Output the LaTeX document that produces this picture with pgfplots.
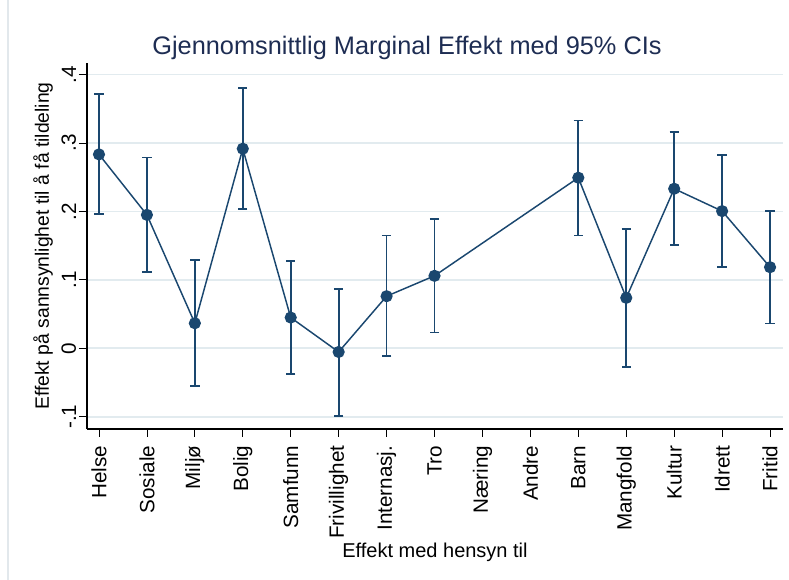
\documentclass[border=0pt]{standalone}
\usepackage{pgfplots}
\pgfplotsset{compat=1.18}
\usepackage{pgfplotstable}
\usepackage{fontspec}
\setmainfont{Liberation Sans}

\definecolor{statanavy}{RGB}{26,71,111}
\definecolor{titlenavy}{RGB}{30,45,83}
\definecolor{gridblue}{RGB}{226,235,239}
\definecolor{frameline}{RGB}{226,232,236}

% margins with 95% CI (Naering and Andre have no estimate)
\pgfplotstableread{
x  y       lo       hi
0  0.2834  0.1966   0.3717
1  0.1950  0.1120   0.2790
2  0.0366  -0.0550  0.1290
3  0.2917  0.2040   0.3800
4  0.0449  -0.0376  0.1280
5  -0.0054 -0.0985  0.0868
6  0.0761  -0.0112  0.1650
7  0.1059  0.0229   0.1888
10 0.2493  0.1650   0.3330
11 0.0737  -0.0273  0.1746
12 0.2332  0.1507   0.3156
13 0.2005  0.1190   0.2829
14 0.1185  0.0361   0.2010
}\margins

\begin{document}
\begin{tikzpicture}
\path[use as bounding box] (-65.25pt,-113.25pt) rectangle (526.5pt,321.75pt);
\draw[frameline, line width=0.8pt] (-59.25pt,-113.25pt) -- (-59.25pt,321.75pt);
\begin{axis}[
    at={(0,0)}, anchor=south west,
    scale only axis,
    width=522pt, height=274.5pt,
    xmin=-0.25, xmax=14.27,
    ymin=-0.118, ymax=0.417,
    axis lines*=left,
    axis line style={-, black, line width=0.8pt},
    tick align=outside,
    major tick length=6pt,
    tick style={black, line width=0.6pt},
    xtick={0,...,14},
    xticklabels={Helse,Sosiale,Miljø,Bolig,Samfunn,Frivillighet,Internasj.,Tro,Næring,Andre,Barn,Mangfold,Kultur,Idrett,Fritid},
    xticklabel style={rotate=90, anchor=east, font=\fontsize{15.5pt}{17pt}\selectfont},
    xticklabel shift=3pt,
    ytick={-0.1,0,0.1,0.2,0.3,0.4},
    yticklabels={-.1,0,.1,.2,.3,.4},
    yticklabel style={rotate=90, anchor=south, inner sep=2pt, font=\fontsize{15.5pt}{17pt}\selectfont},
    ymajorgrids=true,
    grid style={gridblue, line width=1.3pt},
    xlabel={Effekt med hensyn til},
    xlabel style={at={(axis description cs:0.5,-0.336)}, anchor=center, font=\fontsize{15pt}{17pt}\selectfont},
    ylabel={Effekt på sannsynlighet til å få tildeling},
    ylabel style={at={(axis description cs:-0.0632,0.5)}, anchor=center, rotate=0, font=\fontsize{14.5pt}{17pt}\selectfont},
    clip=false,
]
\addplot[
    statanavy, line width=1.1pt,
    mark=*, mark size=4pt, mark options={fill=statanavy, draw=statanavy},
    error bars/.cd,
      y dir=both, y explicit,
      error mark=|,
      error bar style={statanavy, line width=1.3pt},
      error mark options={statanavy, line width=1.3pt, mark size=3.5pt},
] table[
    x=x, y=y,
    y error plus expr=\thisrow{hi}-\thisrow{y},
    y error minus expr=\thisrow{y}-\thisrow{lo},
] {\margins};
\end{axis}
\node[font=\fontsize{19pt}{21pt}\selectfont, color=titlenavy, anchor=base] at (240pt,280.5pt) {Gjennomsnittlig Marginal Effekt med 95\% CIs};
\end{tikzpicture}
\end{document}
